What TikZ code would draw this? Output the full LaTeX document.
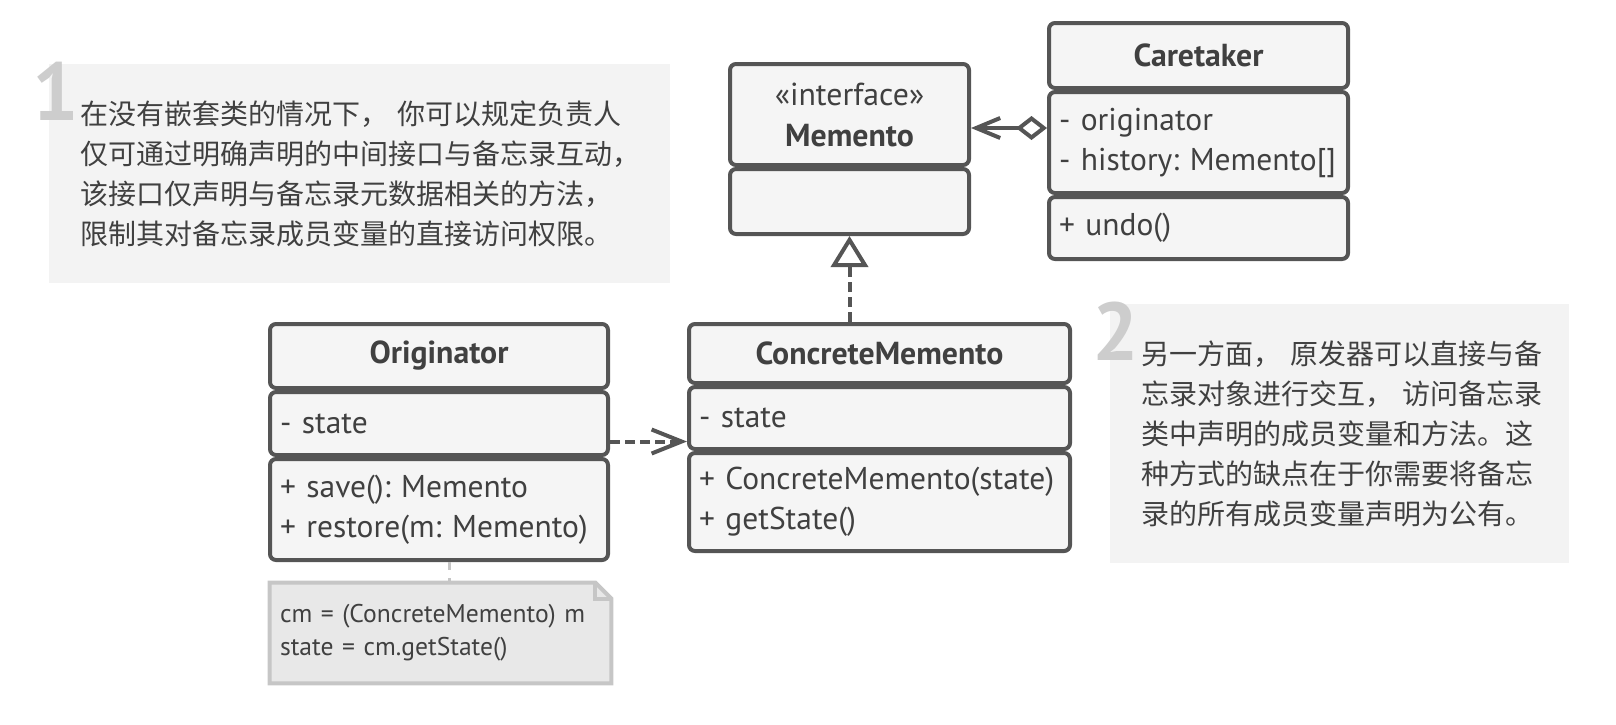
\documentclass[tikz,border=0pt]{standalone}
\usepackage{fontspec}
\setmainfont{PT Sans}[WordSpace=0.55]
\newfontfamily\cjk{Noto Sans CJK SC}
\usetikzlibrary{positioning,arrows.meta,backgrounds}
\frenchspacing

\definecolor{umlline}{HTML}{555555}
\definecolor{umlfill}{HTML}{F5F5F5}
\definecolor{umltext}{HTML}{404040}
\definecolor{infofill}{HTML}{F3F3F3}
\definecolor{digitc}{HTML}{CDCDCD}
\definecolor{notefill}{HTML}{E8E8E8}
\definecolor{noteline}{HTML}{C6C6C6}

\tikzset{
  umlbox/.style={draw=umlline, fill=umlfill, line width=2pt, rounded corners=3pt,
    inner xsep=5pt, inner ysep=0pt, text=umltext},
  classname/.style={umlbox, align=center, font=\bfseries\fontsize{15.9}{20.5}\selectfont},
  members/.style={umlbox, align=left, font=\fontsize{15.75}{20}\selectfont},
  infobox/.style={fill=infofill, anchor=north west, inner xsep=15.5pt, inner ysep=0pt,
    align=left, text=umltext, font=\cjk\fontsize{14}{20}\selectfont},
  digit/.style={anchor=base west, inner sep=0pt, text=digitc,
    font=\bfseries\fontsize{41}{41}\selectfont},
  notebox/.style={inner xsep=5pt, inner ysep=0pt, align=left, text=umltext,
    font=\fontsize{12.8}{16.5}\selectfont},
  aggr/.style={draw=umlline, line width=2pt,
    {Diamond[fill=white, length=15.5pt, width=12pt]}-{Straight Barb[length=12pt, width=10pt]}},
  realize/.style={draw=umlline, line width=2pt, dash pattern=on 5pt off 2.5pt,
    -{Triangle[open, length=15.5pt, width=18.5pt]}},
  depend/.style={draw=umlline, line width=2pt, dash pattern=on 5pt off 2.5pt,
    -{Straight Barb[length=15pt, width=12pt]}},
  notelink/.style={draw=noteline, line width=1.5pt, dash pattern=on 4pt off 4pt},
}

\begin{document}
\begin{tikzpicture}[x=0.5pt, y=-0.5pt]
  \useasboundingbox (0,0) rectangle (1616,724);

  % notes
  \node[infobox, text width=279.5pt, minimum height=109.5pt] (info1) at (49,64)
    {在没有嵌套类的情况下，~你可以规定负责人\\
     仅可通过明确声明的中间接口与备忘录互动，\\
     该接口仅声明与备忘录元数据相关的方法，\\
     限制其对备忘录成员变量的直接访问权限。};
  \node[digit] (n1) at (32,120) {1};
  \node[infobox, text width=198.5pt, minimum height=129.5pt] (info2) at (1110,304)
    {另一方面，~原发器可以直接与备\\
     忘录对象进行交互，~访问备忘录\\
     类中声明的成员变量和方法。这\\
     种方式的缺点在于你需要将备忘\\
     录的所有成员变量声明为公有。};
  \node[digit] (n2) at (1092,360) {2};

  % classes
  \node[classname, text width=109.5pt, minimum height=50.5pt] (mem) at (849.5,114.5)
    {{\mdseries «interface»}\\Memento};
  \node[members, text width=109.5pt, minimum height=32.5pt, below=0pt of mem] (mem-body) {};

  \node[classname, text width=139.5pt, minimum height=32.5pt] (care) at (1198.5,55.5) {Caretaker};
  \node[members, text width=139.5pt, minimum height=50.5pt, below=0pt of care] (care-attr)
    {- originator\\\mbox{- history: Memento[]}};
  \node[members, text width=139.5pt, minimum height=31pt, below=0pt of care-attr] (care-ops)
    {+ undo()};

  \node[classname, text width=159pt, minimum height=32pt] (orig) at (439,356) {Originator};
  \node[members, text width=159pt, minimum height=31.5pt, below=0pt of orig] (orig-attr)
    {- state};
  \node[members, text width=159pt, minimum height=50.5pt, below=0pt of orig-attr] (orig-ops)
    {+ save(): Memento\\+ restore(m: Memento)};

  \node[classname, text width=180.5pt, minimum height=29.5pt] (cm) at (879.5,353.5) {ConcreteMemento};
  \node[members, text width=180.5pt, minimum height=31pt, below=0pt of cm] (cm-attr)
    {- state};
  \node[members, text width=180.5pt, minimum height=49pt, below=0pt of cm-attr] (cm-ops)
    {+ ConcreteMemento(state)\\+ getState()};

  \node[notebox, text width=160.5pt, minimum height=50pt] (note) at (440.5,633)
    {cm = (ConcreteMemento) m\\state = cm.getState()};
  \begin{pgfonlayer}{background}
    \draw[fill=notefill, draw=noteline, line width=2pt]
      (note.north west) -- ([xshift=-8pt]note.north east) -- ([yshift=-8pt]note.north east)
      -- (note.south east) -- (note.south west) -- cycle;
  \end{pgfonlayer}
  \draw[draw=noteline, line width=2pt]
    ([xshift=-8pt]note.north east) |- ([yshift=-8pt]note.north east);

  % relations
  \draw[aggr] ([yshift=7.25pt]care-attr.west) -- ([yshift=7.25pt]care-attr.west -| mem.east);
  \draw[realize] (mem-body.south |- cm.north) -- (mem-body.south);
  \draw[depend] ([yshift=-9pt]orig-attr.east) -- ([yshift=-9pt]orig-attr.east -| cm-attr.west);
  \draw[notelink] ([xshift=5pt]orig-ops.south) -- ([xshift=5pt]orig-ops.south |- note.north);
\end{tikzpicture}
\end{document}
